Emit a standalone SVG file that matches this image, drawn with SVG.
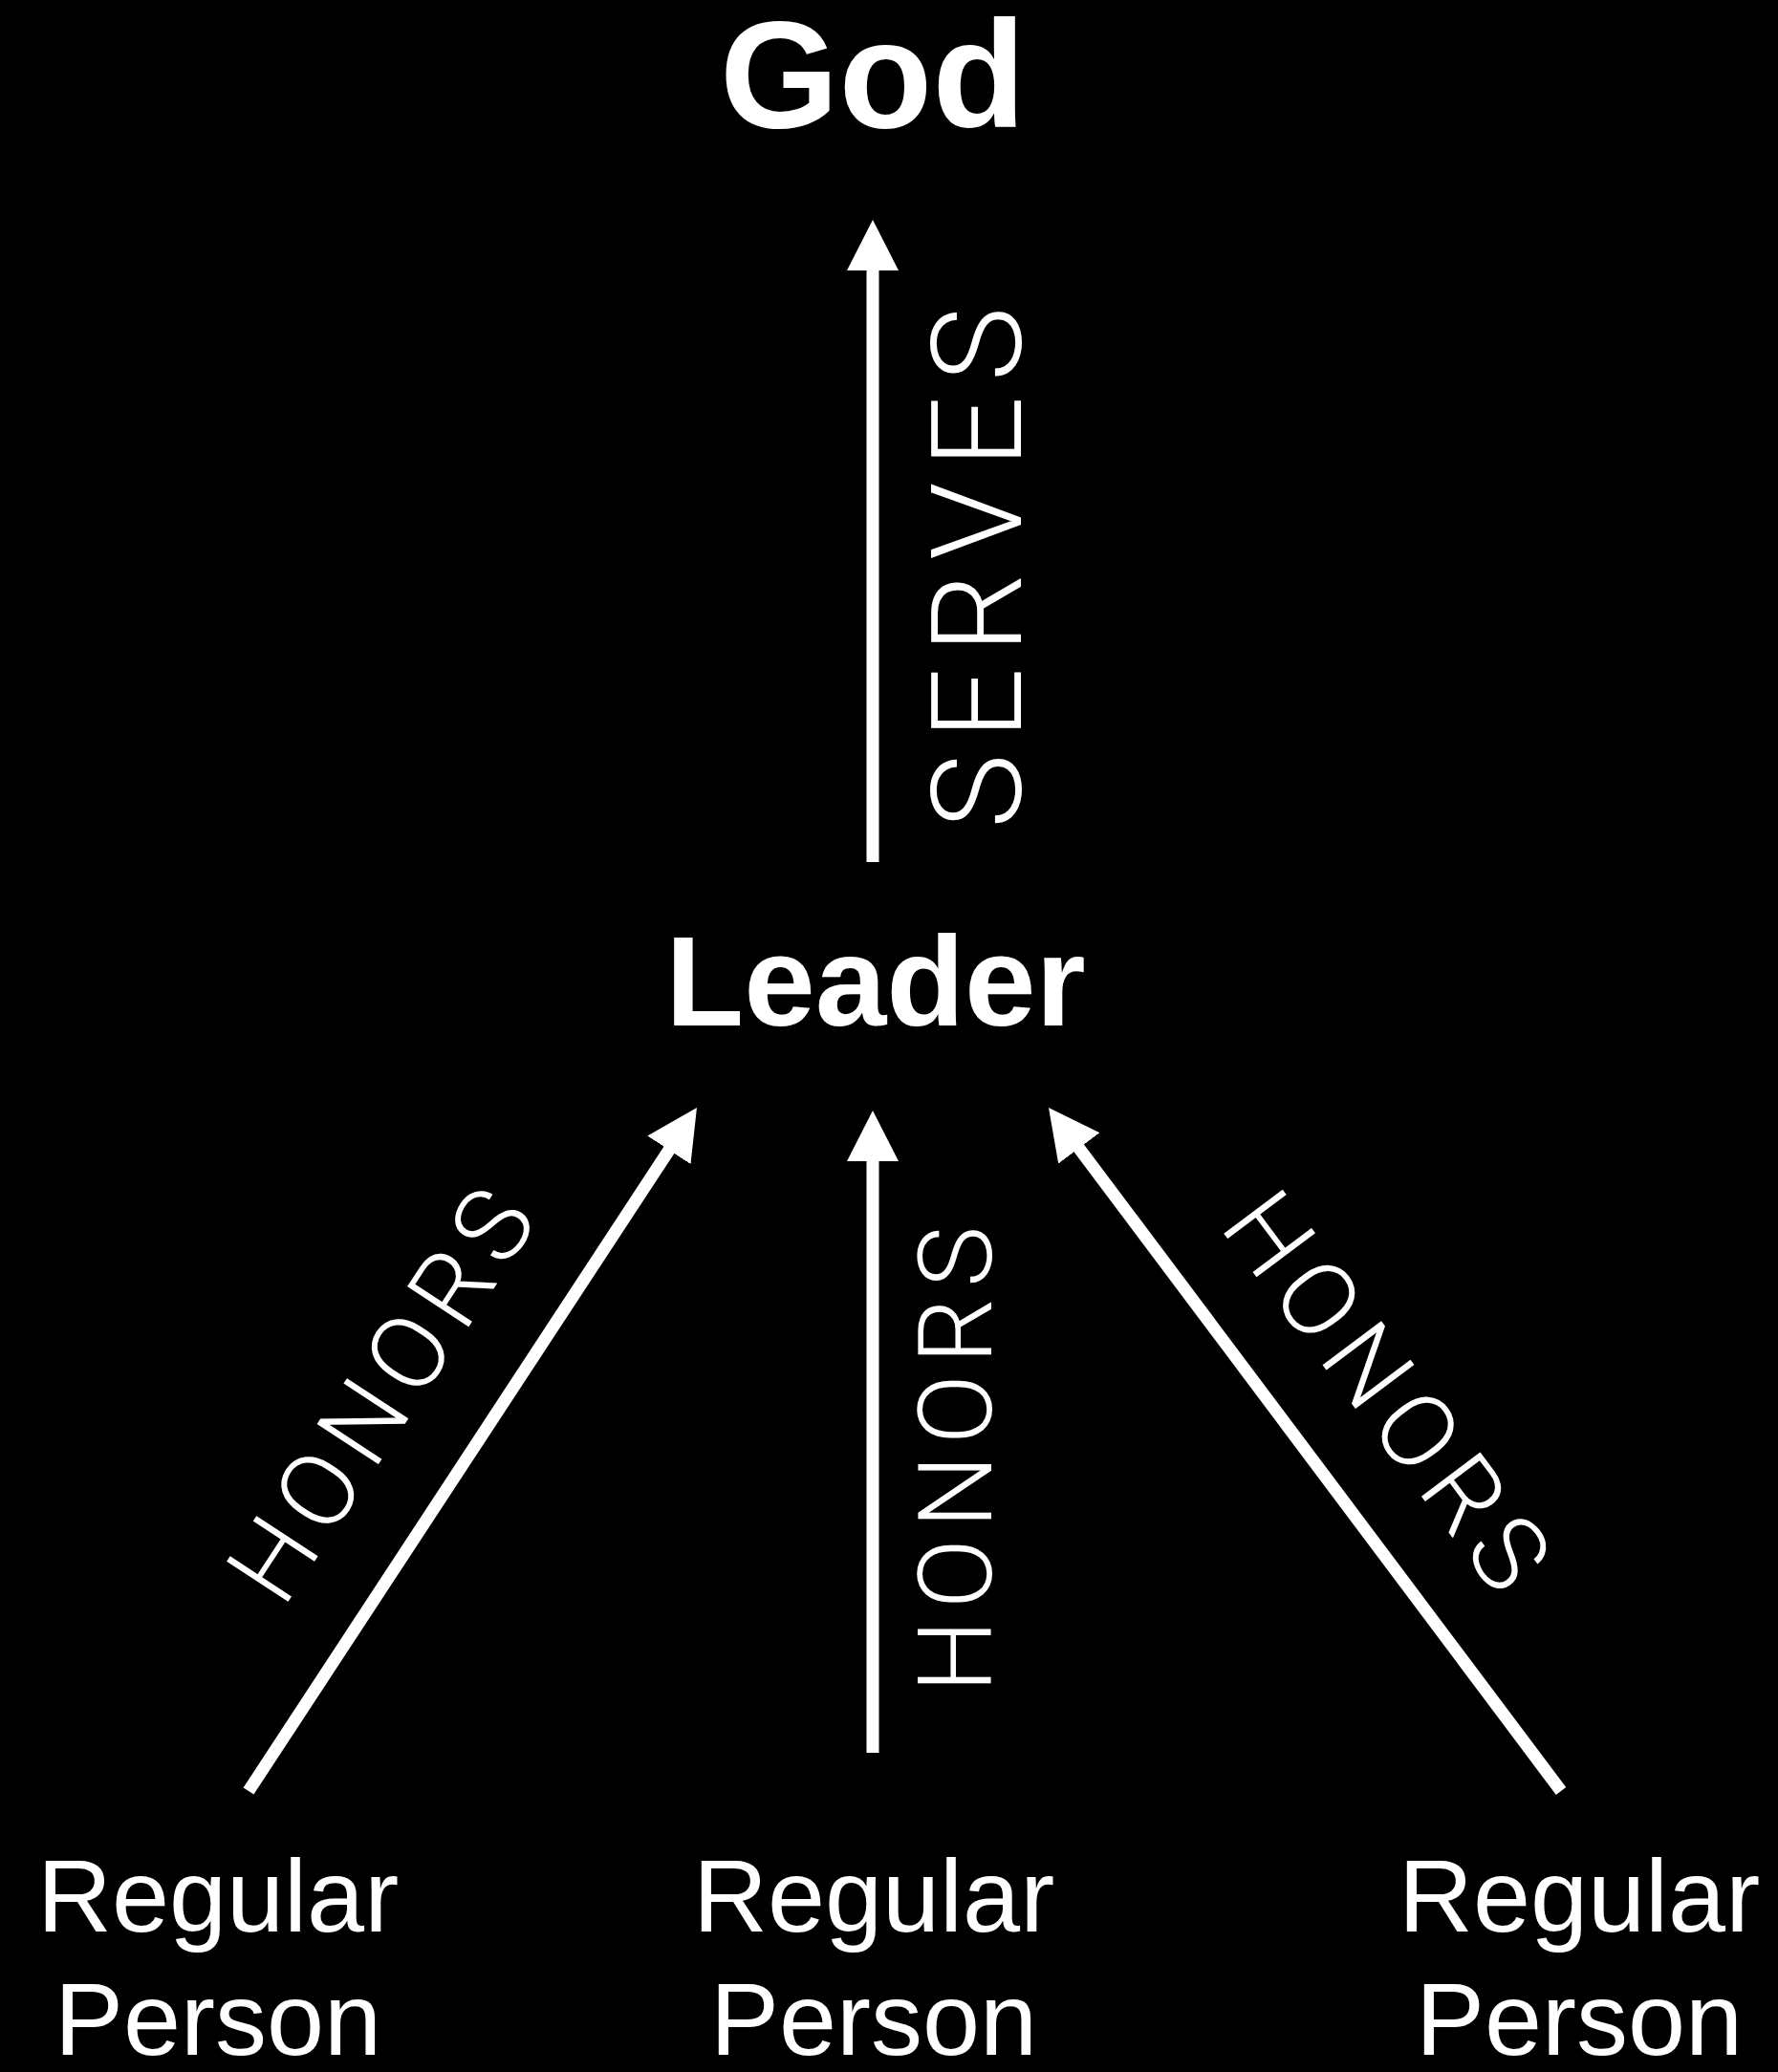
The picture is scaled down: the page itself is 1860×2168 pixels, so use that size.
<svg xmlns="http://www.w3.org/2000/svg" width="1860" height="2168" viewBox="0 0 1860 2168">
<defs>
<style>
.title{font-family:"Liberation Sans",Arial,sans-serif;font-weight:bold;fill:#fff;text-anchor:middle}
.person{font-family:"Liberation Sans",Arial,sans-serif;font-size:108px;fill:#fff;text-anchor:middle}
.lbl{font-family:Roboto,Inter,"Liberation Sans",sans-serif;font-weight:300;fill:#fff;text-anchor:middle}
.conn{stroke:#fff;stroke-width:13;fill:none;marker-end:url(#ah)}
</style>
<marker id="ah" markerUnits="userSpaceOnUse" markerWidth="54" markerHeight="56" viewBox="0 0 54 56" refX="2" refY="28" orient="auto"><path d="M0,1 L53,28 L0,55 z" fill="#fff"/></marker>
</defs>
<rect width="1860" height="2168" fill="#000"/>
<g id="god"><text class="title" x="913" y="133" font-size="160">God</text></g>
<g id="leader"><text class="title" x="916" y="1073" font-size="134">Leader</text></g>
<g id="person1"><text class="person" x="228" y="2021">Regular<tspan x="228" y="2150">Person</tspan></text></g>
<g id="person2"><text class="person" x="914" y="2021">Regular<tspan x="914" y="2150">Person</tspan></text></g>
<g id="person3"><text class="person" x="1652" y="2021">Regular<tspan x="1652" y="2150">Person</tspan></text></g>
<g id="connectors">
<line class="conn" x1="913" y1="902" x2="913" y2="281"/>
<line class="conn" x1="913" y1="1834" x2="913" y2="1213"/>
<line class="conn" x1="260" y1="1874" x2="701" y2="1201.6"/>
<line class="conn" x1="1633" y1="1874" x2="1127.6" y2="1199.8"/>
<text class="lbl" font-size="132" textLength="546" transform="translate(1068,594) rotate(-90)">SERVES</text>
<text class="lbl" font-size="108" textLength="488" transform="translate(1037,1527) rotate(-90)">HONORS</text>
<text class="lbl" font-size="108" textLength="488" transform="translate(430,1480) rotate(-56.7)">HONORS</text>
<text class="lbl" font-size="108" textLength="488" transform="translate(1421,1478) rotate(53.1)">HONORS</text>
</g>
</svg>
